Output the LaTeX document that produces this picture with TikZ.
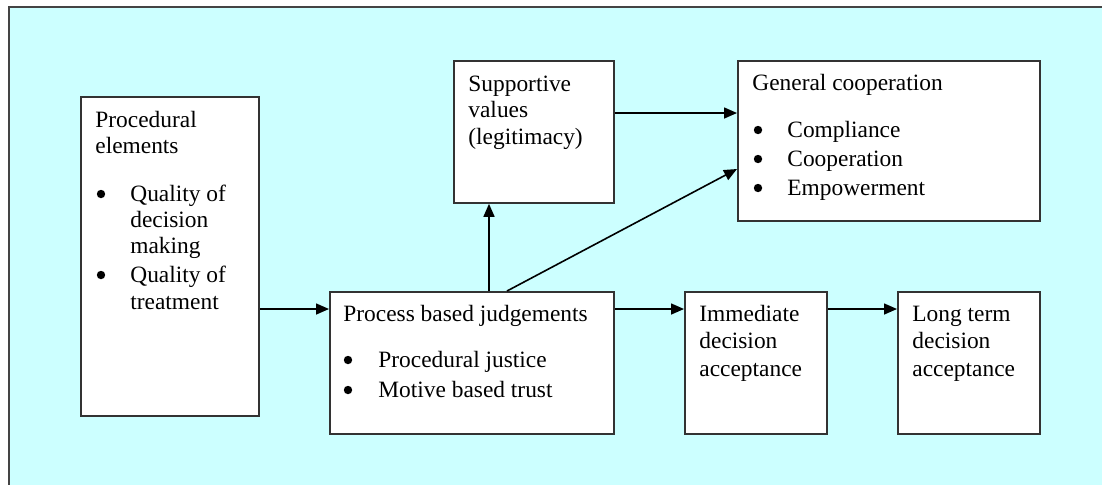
\documentclass[tikz,border=0pt]{standalone}
\usepackage{fontspec}
\setmainfont{Liberation Serif}
\usetikzlibrary{arrows.meta}
\definecolor{bgcyan}{HTML}{CCFFFF}
\definecolor{edgegray}{HTML}{333333}
\definecolor{framegray}{HTML}{444444}
\begin{document}
\begin{tikzpicture}[x=0.5pt,y=-0.5pt,
  box/.style={draw=edgegray,line width=0.9pt,fill=white,anchor=north west,inner sep=0pt},
  txt/.style={anchor=base west,inner sep=0pt,font=\fontsize{11.7}{13.5}\selectfont},
  bul/.style={circle,fill=black,inner sep=0pt,minimum size=4.2pt,anchor=center},
  arr/.style={draw=black,line width=0.8pt,-{Triangle[length=6.5pt,width=5.5pt]}}]
\useasboundingbox (0,0) rectangle (1102,484);
\clip (0,0) rectangle (1102,484);
\fill[white] (0,0) rectangle (1102,484);
\draw[line width=1pt,draw=framegray,fill=bgcyan] (9,7) rectangle (1130,510);

% boxes
\node[box,minimum width=89pt,minimum height=159.5pt] (proc) at (80,96) {};
\node[box,minimum width=142pt,minimum height=71pt] (pbj) at (329,291) {};
\node[box,minimum width=80pt,minimum height=71pt] (sup) at (453,60) {};
\node[box,minimum width=151pt,minimum height=80pt] (gen) at (737,60) {};
\node[box,minimum width=71pt,minimum height=71pt] (imm) at (684,291) {};
\node[box,minimum width=71pt,minimum height=71pt] (lt) at (897,291) {};

% texts: procedural elements
\node[txt] (p1) at (95,127) {Procedural};
\node[txt] (p2) at (95,153) {elements};
\node[bul] (pb1) at (101,194) {};
\node[txt] (p3) at (130,201) {Quality of};
\node[txt] (p4) at (130,227) {decision};
\node[txt] (p5) at (130,253) {making};
\node[bul] (pb2) at (101,275) {};
\node[txt] (p6) at (130,282) {Quality of};
\node[txt] (p7) at (130,309) {treatment};

% process based judgements
\node[txt] (j1) at (343,321) {Process based judgements};
\node[bul] (jb1) at (348,360) {};
\node[txt] (j2) at (378,367) {Procedural justice};
\node[bul] (jb2) at (348,390) {};
\node[txt] (j3) at (378,397) {Motive based trust};

% supportive values
\node[txt] (s1) at (468,91) {Supportive};
\node[txt] (s2) at (468,117) {values};
\node[txt] (s3) at (468,144) {(legitimacy)};

% general cooperation
\node[txt] (g1) at (752,90) {General cooperation};
\node[bul] (gb1) at (758,130) {};
\node[txt] (g2) at (787,137) {Compliance};
\node[bul] (gb2) at (758,159) {};
\node[txt] (g3) at (787,166) {Cooperation};
\node[bul] (gb3) at (758,188) {};
\node[txt] (g4) at (787,195) {Empowerment};

% immediate
\node[txt] (i1) at (699,321) {Immediate};
\node[txt] (i2) at (699,348) {decision};
\node[txt] (i3) at (699,376) {acceptance};

% long term
\node[txt] (l1) at (912,321) {Long term};
\node[txt] (l2) at (912,348) {decision};
\node[txt] (l3) at (912,376) {acceptance};

% connector anchor points
\coordinate (pbjin) at ([yshift=-9pt]pbj.north west);
\coordinate (pbjout) at ([yshift=-9pt]pbj.north east);
\coordinate (immin) at ([yshift=-9pt]imm.north west);
\coordinate (immout) at ([yshift=-9pt]imm.north east);
\coordinate (ltin) at ([yshift=-9pt]lt.north west);
\coordinate (supin) at ([xshift=18pt]sup.south west);
\coordinate (diagstart) at ([xshift=89pt]pbj.north west);
\coordinate (genin) at ([yshift=-54.5pt]gen.north west);
\coordinate (supout) at ([yshift=-26.5pt]sup.north east);

\draw[arr] (proc.east |- pbjin) -- (pbjin);
\draw[arr] (pbjout) -- (immin);
\draw[arr] (immout) -- (ltin);
\draw[arr] (pbj.north -| supin) -- (supin);
\draw[arr] (diagstart) -- (genin);
\draw[arr] (supout) -- (gen.west |- supout);
\end{tikzpicture}
\end{document}
